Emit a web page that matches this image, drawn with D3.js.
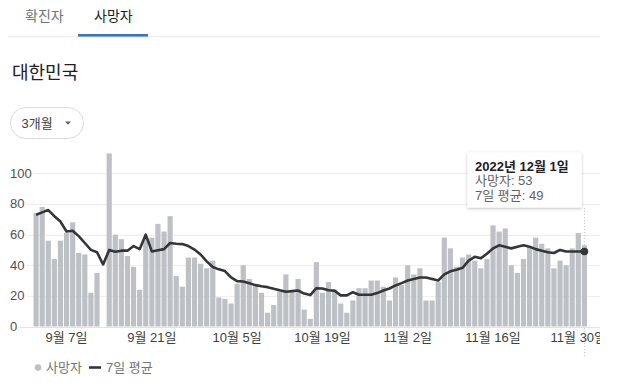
<!DOCTYPE html>
<html><head><meta charset="utf-8">
<script src="https://cdn.jsdelivr.net/npm/d3@7"></script>
<style>
html,body{margin:0;padding:0;background:#fff;}
svg{display:block;font-family:"Liberation Sans",Arial,"Noto Sans CJK KR",sans-serif;}
</style></head>
<body>
<script>
const dates = [
"2022-09-02","2022-09-03","2022-09-04","2022-09-05","2022-09-06","2022-09-07","2022-09-08","2022-09-09","2022-09-10","2022-09-11",
"2022-09-12","2022-09-13","2022-09-14","2022-09-15","2022-09-16","2022-09-17","2022-09-18","2022-09-19","2022-09-20","2022-09-21",
"2022-09-22","2022-09-23","2022-09-24","2022-09-25","2022-09-26","2022-09-27","2022-09-28","2022-09-29","2022-09-30",
"2022-10-01","2022-10-02","2022-10-03","2022-10-04","2022-10-05","2022-10-06","2022-10-07","2022-10-08","2022-10-09","2022-10-10",
"2022-10-11","2022-10-12","2022-10-13","2022-10-14","2022-10-15","2022-10-16","2022-10-17","2022-10-18","2022-10-19","2022-10-20",
"2022-10-21","2022-10-22","2022-10-23","2022-10-24","2022-10-25","2022-10-26","2022-10-27","2022-10-28","2022-10-29","2022-10-30","2022-10-31",
"2022-11-01","2022-11-02","2022-11-03","2022-11-04","2022-11-05","2022-11-06","2022-11-07","2022-11-08","2022-11-09","2022-11-10",
"2022-11-11","2022-11-12","2022-11-13","2022-11-14","2022-11-15","2022-11-16","2022-11-17","2022-11-18","2022-11-19","2022-11-20",
"2022-11-21","2022-11-22","2022-11-23","2022-11-24","2022-11-25","2022-11-26","2022-11-27","2022-11-28","2022-11-29","2022-11-30",
"2022-12-01"];
const deaths = [
74,78,56,44,56,61,68,48,47,22,
35,null,113,60,57,46,39,24,58,58,
67,62,72,33,26,45,45,41,38,
43,19,18,15,28,40,31,27,22,9,
14,23,34,23,31,11,5,42,22,29,
24,15,9,17,25,25,30,30,26,17,32,
27,40,34,38,17,17,29,58,51,39,
45,47,43,38,44,66,62,64,40,35,
44,52,58,54,51,38,43,40,51,61,
53];
const avg7 = [
73,74.5,76,72,68.5,62,62.5,59,54.5,50,
48.5,40.5,50,48.8,49.5,49.5,52.5,50.5,60,49,
49.8,50.5,54.5,54,53.8,52.5,50.2,47,42.5,
38.8,37.3,36.2,32,29.6,29.4,28.3,27,26.3,25.7,
24.6,23.6,22.7,23.1,23.5,21.5,20.5,25,24.8,23.7,
23.4,20.3,20.3,22.4,20.7,20.7,20.7,21.8,23.5,24.8,26.8,
28.3,30,31,32,32,31,30,34,36,37,
38.3,43,45.5,44.5,47.5,51,53,52,51,52,
53,52,50.5,49.5,48.5,48,50,49,49,49,
49];
const yTicks = [0,20,40,60,80,100];
const tickDates = ["2022-09-07","2022-09-21","2022-10-05","2022-10-19","2022-11-02","2022-11-16","2022-11-30"];
const tickLabels = ["9월 7일","9월 21일","10월 5일","10월 19일","11월 2일","11월 16일","11월 30일"];
const tabs = ["확진자","사망자"];
const tooltipLines = ["2022년 12월 1일","사망자: 53","7일 평균: 49"];
const legendLabels = ["사망자","7일 평균"];

const W = 617, H = 383;
const svg = d3.select("body").append("svg").attr("width", W).attr("height", H);
const defs = svg.append("defs");
defs.append("clipPath").attr("id","clipR").append("rect").attr("x",0).attr("y",0).attr("width",600).attr("height",H);
const f = defs.append("filter").attr("id","shadow").attr("x","-20%").attr("y","-20%").attr("width","140%").attr("height","150%");
f.append("feDropShadow").attr("dx",0).attr("dy",1).attr("stdDeviation",1.5).attr("flood-color","#000").attr("flood-opacity",0.28);

// tabs
svg.append("line").attr("x1",8).attr("x2",600).attr("y1",36.8).attr("y2",36.8).attr("stroke","#e8eaed").attr("stroke-width",1);
svg.append("text").attr("x",25).attr("y",20.5).attr("font-size",14).attr("fill","#70757a").text(tabs[0]);
svg.append("text").attr("x",94).attr("y",20.5).attr("font-size",14).attr("fill","#202124").text(tabs[1]);
svg.append("rect").attr("x",78).attr("y",34).attr("width",70).attr("height",2.6).attr("fill","#3b73c6");

// title
svg.append("text").attr("x",12).attr("y",78.5).attr("font-size",18).attr("fill","#202124").text("대한민국");

// pill
svg.append("rect").attr("x",10.5).attr("y",107.5).attr("width",73).attr("height",31).attr("rx",15.5)
  .attr("fill","#fff").attr("stroke","#dadce0");
svg.append("text").attr("x",21.5).attr("y",128).attr("font-size",13).attr("fill","#3c4043").text("3개월");
svg.append("path").attr("d","M65,121.5 L71,121.5 L68,124.8 Z").attr("fill","#5f6368");

// scales
const x = d3.scaleBand().domain(dates).range([33.5, 587]).paddingInner(0.15).paddingOuter(0);
const y = d3.scaleLinear().domain([0, 120]).range([326.5, 142.66]);

// gridlines
svg.append("g").selectAll("line").data(yTicks).join("line")
  .attr("x1",11).attr("x2",600)
  .attr("y1",d=>Math.round(y(d))+0.5).attr("y2",d=>Math.round(y(d))+0.5)
  .attr("stroke",d=>d===0?"#e3e3e3":"#efefef").attr("stroke-width",1);

// y labels with white halo
svg.append("g").selectAll("text").data(yTicks).join("text")
  .attr("x",10).attr("y",d=>y(d)).attr("dy","0.35em")
  .attr("font-size",13).attr("fill","#4d5156")
  .attr("stroke","#fff").attr("stroke-width",4).attr("paint-order","stroke")
  .text(d=>d);

// bars
svg.append("g").selectAll("rect").data(dates.map((d,i)=>({d, v:deaths[i]})).filter(o=>o.v!=null)).join("rect")
  .attr("x",o=>x(o.d)).attr("width",x.bandwidth())
  .attr("y",o=>y(o.v)).attr("height",o=>y(0)-y(o.v))
  .attr("fill","#bdc1c6");

// hover line
const lastD = dates[dates.length-1];
const cx = x(lastD)+x.bandwidth()/2;
svg.append("line").attr("x1",cx).attr("x2",cx).attr("y1",208).attr("y2",358)
  .attr("stroke","#c4c4c4").attr("stroke-width",1).attr("stroke-dasharray","1,2");

// avg line
const line = d3.line().x((d,i)=>x(dates[i])+x.bandwidth()/2).y(d=>y(d));
svg.append("path").datum(avg7).attr("d",line).attr("fill","none")
  .attr("stroke","#333537").attr("stroke-width",2.6).attr("stroke-linejoin","round");
svg.append("circle").attr("cx",cx).attr("cy",y(avg7[avg7.length-1])).attr("r",3.8).attr("fill","#333537");

// x labels
const xl = svg.append("g").attr("clip-path","url(#clipR)");
xl.selectAll("text").data(tickDates).join("text")
  .attr("x",(d)=>x(d)+x.bandwidth()/2).attr("y",342)
  .attr("text-anchor","middle").attr("font-size",13).attr("fill","#3c4043")
  .text((d,i)=>tickLabels[i]);

// tooltip
const tt = svg.append("g");
tt.append("rect").attr("x",467.5).attr("y",152.5).attr("width",114).attr("height",55)
  .attr("fill","#fff").attr("filter","url(#shadow)");
tt.append("text").attr("x",475).attr("y",170.5).attr("font-size",13).attr("font-weight","bold").attr("fill","#202124").text(tooltipLines[0]);
tt.append("text").attr("x",475).attr("y",185).attr("font-size",13).attr("fill","#5f6368").text(tooltipLines[1]);
tt.append("text").attr("x",475).attr("y",199.5).attr("font-size",13).attr("fill","#5f6368").text(tooltipLines[2]);

// legend
svg.append("circle").attr("cx",38).attr("cy",367.5).attr("r",3.3).attr("fill","#bdc1c6");
svg.append("text").attr("x",46).attr("y",372).attr("font-size",13).attr("fill","#70757a").text(legendLabels[0]);
svg.append("line").attr("x1",89).attr("x2",101).attr("y1",367.5).attr("y2",367.5).attr("stroke","#333537").attr("stroke-width",2.6);
svg.append("text").attr("x",106).attr("y",372).attr("font-size",13).attr("fill","#70757a").text(legendLabels[1]);
</script>
</body></html>
